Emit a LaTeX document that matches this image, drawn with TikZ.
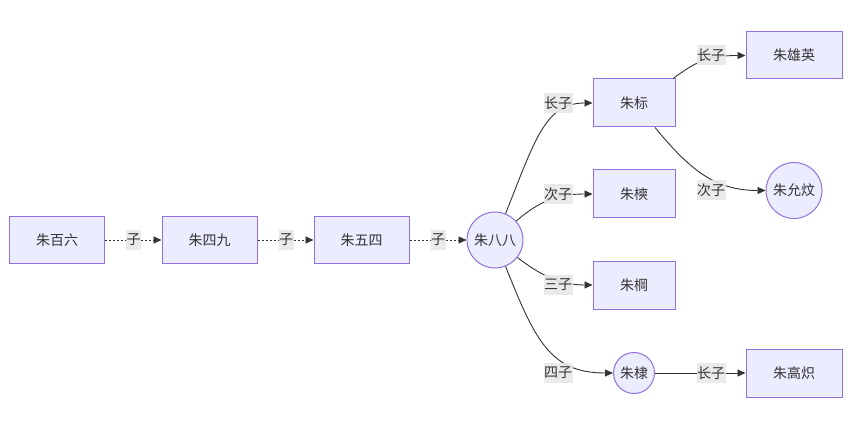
\documentclass[tikz,border=0pt]{standalone}
\usepackage{fontspec}
\setmainfont{Noto Sans CJK SC}
\usetikzlibrary{arrows.meta,calc}
\definecolor{nodefill}{HTML}{ECECFF}
\definecolor{nodeline}{HTML}{9370DB}
\definecolor{edgecol}{HTML}{333333}
\definecolor{labfill}{HTML}{E8E8E8}
\begin{document}
\begin{tikzpicture}[x=1pt,y=-1pt,
  font=\fontsize{14}{16}\selectfont,
  box/.style={draw=nodeline,fill=nodefill,line width=1pt,text=edgecol,minimum width=95pt,minimum height=47pt,inner sep=0pt},
  circ/.style={draw=nodeline,fill=nodefill,line width=1pt,text=edgecol,circle,inner sep=0pt},
  lab/.style={fill=labfill,fill opacity=0.9,text opacity=1,text=edgecol,inner xsep=0.5pt,inner ysep=0pt,minimum height=20pt},
  edge/.style={draw=edgecol,line width=0.9pt,-{Triangle[length=8pt,width=7pt]}},
  dot/.style={edge,dash pattern=on 2pt off 2pt}]
\useasboundingbox (0,0) rectangle (853,438);
% nodes
\node[box] (n16) at (57,240) {朱百六};
\node[box] (n49) at (209.5,240) {朱四九};
\node[box] (n54) at (361.5,240) {朱五四};
\node[circ,minimum size=56pt] (n88) at (495,240) {朱八八};
\node[box,minimum width=82pt,minimum height=48pt] (zb) at (634,103) {朱标};
\node[box,minimum width=82pt,minimum height=48pt] (zs) at (634,194) {朱樉};
\node[box,minimum width=82pt,minimum height=48pt] (zg) at (634,285) {朱棡};
\node[circ,minimum size=41pt] (zd) at (634,373) {朱棣};
\node[box,minimum width=96pt,minimum height=47pt] (zxy) at (794,55.5) {朱雄英};
\node[circ,minimum size=56pt] (zyw) at (794,190.5) {朱允炆};
\node[box,minimum width=96pt,minimum height=48pt] (zgc) at (794,373) {朱高炽};
% edges
\draw[dot] (n16) -- (n49);
\draw[dot] (n49) -- (n54);
\draw[dot] (n54) -- (n88);
\draw[edge] (n88) .. controls (535,140) and (545,103) .. (zb.west);
\draw[edge] (n88) .. controls (540,200) and (560,194) .. (zs.west);
\draw[edge] (n88) .. controls (540,275) and (560,285) .. (zg.west);
\draw[edge] (n88) .. controls (535,340) and (550,373) .. (zd.west);
\draw[edge] ([xshift=39pt]zb.north) .. controls (695,63) and (705,55.5) .. (zxy.west);
\draw[edge] ([xshift=21pt]zb.south) .. controls (690,170) and (715,190.5) .. (zyw.west);
\draw[edge] (zd) -- (zgc);
% labels
\node[lab] (l1) at (133.5,240) {子};
\node[lab] (l2) at (286,240) {子};
\node[lab] (l3) at (438,240) {子};
\node[lab] (l4) at (558,103) {长子};
\node[lab] (l5) at (558,194) {次子};
\node[lab] (l6) at (558,285) {三子};
\node[lab] (l7) at (558,373) {四子};
\node[lab] (l8) at (711,55) {长子};
\node[lab] (l9) at (711,190) {次子};
\node[lab] (l10) at (711,373) {长子};
\end{tikzpicture}
\end{document}
